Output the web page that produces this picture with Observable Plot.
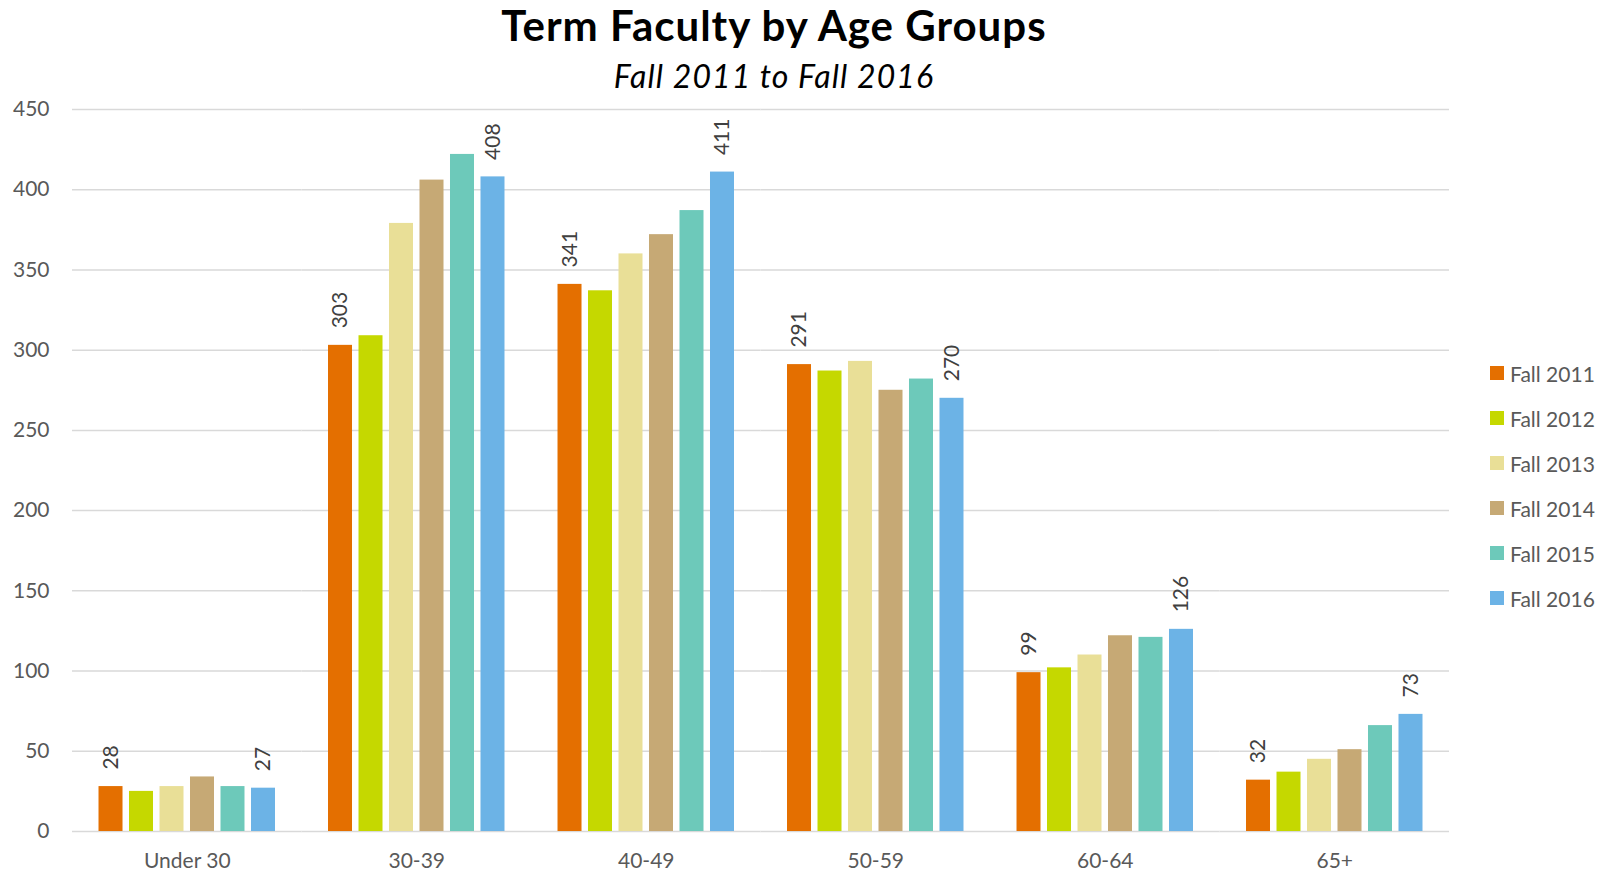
<!DOCTYPE html>
<html>
<head>
<meta charset="utf-8">
<script src="https://cdn.jsdelivr.net/npm/d3@7"></script>
<script src="https://cdn.jsdelivr.net/npm/@observablehq/plot@0.6"></script>
<style>
  html, body { margin: 0; padding: 0; background: #fff; }
  #wrap { position: relative; width: 1614px; height: 873px; overflow: hidden; font-family: Lato, "Open Sans", sans-serif; }
  #title { position: absolute; left: 0; width: 1548px; top: 4px; text-align: center; font-size: 42px; line-height: 42px; font-weight: 700; letter-spacing: 1px; color: #000; }
  #subtitle { position: absolute; left: 0; width: 1548px; top: 60px; text-align: center; font-size: 32px; line-height: 32px; font-style: italic; letter-spacing: 1.1px; color: #000; }
  #legend { position: absolute; left: 1490px; top: 362.5px; }
  .item { position: absolute; left: 0; display: flex; align-items: center; height: 21px; white-space: nowrap; font-size: 21px; line-height: 21px; color: #595959; }
  .sw { width: 14px; height: 14px; margin-right: 6px; }
  #chart { position: absolute; left: 0; top: 0; }
</style>
</head>
<body>
<div id="wrap">
  <div id="chart"></div>
  <div id="title"></div>
  <div id="subtitle"></div>
  <div id="legend"></div>
</div>
<script>
// ---- data ----
const titleText = "Term Faculty by Age Groups";
const subtitleText = "Fall 2011 to Fall 2016";
const groups = ["Under 30", "30-39", "40-49", "50-59", "60-64", "65+"];
const years = ["Fall 2011", "Fall 2012", "Fall 2013", "Fall 2014", "Fall 2015", "Fall 2016"];
const fall2011 = [28, 303, 341, 291, 99, 32];
const fall2012 = [25, 309, 337, 287, 102, 37];
const fall2013 = [28, 379, 360, 293, 110, 45];
const fall2014 = [34, 406, 372, 275, 122, 51];
const fall2015 = [28, 422, 387, 282, 121, 66];
const fall2016 = [27, 408, 411, 270, 126, 73];
const yTicks = [0, 50, 100, 150, 200, 250, 300, 350, 400, 450];
const colors = ["#E46F00", "#C5D800", "#E9DF97", "#C6A975", "#6DC9BA", "#6CB3E6"];
const labeledYears = ["Fall 2011", "Fall 2016"];

const series = [fall2011, fall2012, fall2013, fall2014, fall2015, fall2016];
const data = [];
groups.forEach((g, gi) => {
  years.forEach((y, yi) => data.push({group: g, year: y, value: series[yi][gi]}));
});
const labelData = data.filter(d => labeledYears.includes(d.year));

// ---- layout ----
const W = 1614, H = 873;
const mL = 72, mR = 165, mT = 109, mB = 42;
const fxPadInner = 0.231;
const halfGap = ((W - mL - mR) / groups.length) * fxPadInner / 2;

document.getElementById("title").textContent = titleText;
document.getElementById("subtitle").textContent = subtitleText;

const chart = Plot.plot({
  width: W,
  height: H,
  marginLeft: mL,
  marginRight: mR,
  marginTop: mT,
  marginBottom: mB,
  style: {fontFamily: "Lato, 'Open Sans', sans-serif", fontSize: "21px", color: "#595959", background: "transparent"},
  fx: {domain: groups, paddingInner: fxPadInner, paddingOuter: fxPadInner / 2, round: false, label: null, axis: "bottom", tickSize: 0, tickPadding: 22},
  x: {domain: years, paddingInner: 0.213, paddingOuter: 0, round: false, axis: null},
  y: {domain: [0, 450], ticks: yTicks, tickSize: 0, tickPadding: 23 + halfGap, label: null, tickFormat: d => String(d)},
  color: {domain: years, range: colors},
  marks: [
    Plot.ruleY(yTicks, {stroke: "#d9d9d9", strokeWidth: 1.5, insetLeft: -halfGap, insetRight: -halfGap}),
    Plot.barY(data, {fx: "group", x: "year", y: "value", fill: "year"}),
    Plot.text(labelData, {fx: "group", x: "year", y: "value", text: d => String(d.value), rotate: -90, textAnchor: "start", lineAnchor: "middle", dy: -17, fill: "#404040", fontSize: 21})
  ]
});
document.getElementById("chart").appendChild(chart);

// legend
const legend = document.getElementById("legend");
years.forEach((y, i) => {
  const it = document.createElement("div");
  it.className = "item";
  it.style.top = (i * 45) + "px";
  const sw = document.createElement("div");
  sw.className = "sw";
  sw.style.background = colors[i];
  const tx = document.createElement("span");
  tx.textContent = y;
  it.appendChild(sw);
  it.appendChild(tx);
  legend.appendChild(it);
});
</script>
</body>
</html>
